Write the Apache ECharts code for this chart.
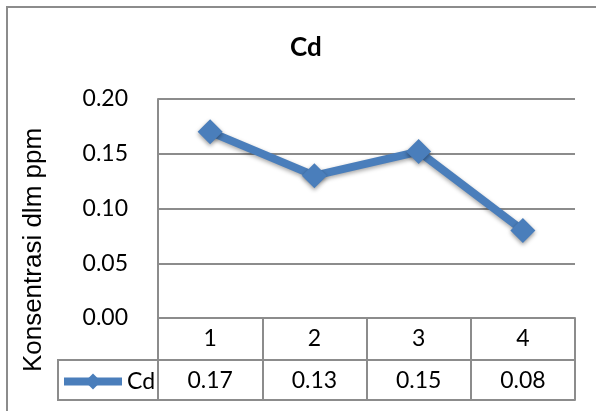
<!DOCTYPE html>
<html>
<head>
<meta charset="utf-8">
<script src="https://cdn.jsdelivr.net/npm/echarts@6/dist/echarts.min.js"></script>
<style>html,body{margin:0;padding:0;background:#fff}#c{width:596px;height:411px}</style>
</head>
<body>
<div id="c"></div>
<script>
const chartTitle = 'Cd';
const categories = ['1', '2', '3', '4'];
const seriesName = 'Cd';
const cdValues = [0.17, 0.13, 0.152, 0.08];
const yTicks = [0, 0.05, 0.10, 0.15, 0.20];
const yTitle = 'Konsentrasi dlm ppm';

const GRAY = '#8c8c8c';
const BLUE = '#4a7ebb';
const CAL = 'Lato';

const chart = echarts.init(document.getElementById('c'), null, {renderer: 'canvas'});
chart.setOption({
  animation: false,
  backgroundColor: '#fff',
  title: {
    text: chartTitle, left: 285, top: 30,
    textStyle: {fontFamily: CAL, fontWeight: 'bold', fontSize: 26, color: '#000'}
  },
  legend: {
    data: [seriesName], left: 55, top: 365, padding: 5, itemWidth: 58, itemHeight: 20,
    lineStyle: {width: 8, color: BLUE},
    itemStyle: {color: BLUE},
    textStyle: {fontFamily: CAL, fontSize: 23, color: '#000'}
  },
  grid: {left: 158, top: 99, right: 21, bottom: 93},
  yAxis: {
    type: 'value', min: yTicks[0], max: yTicks[yTicks.length - 1], interval: 0.05,
    axisLine: {show: true, lineStyle: {color: GRAY, width: 2}},
    axisTick: {show: false},
    splitLine: {lineStyle: {color: GRAY, width: 2}},
    axisLabel: {margin: 30, fontFamily: CAL, fontSize: 23, color: '#000', formatter: v => v.toFixed(2)}
  },
  xAxis: [
    {
      type: 'category', data: categories, position: 'bottom', boundaryGap: true,
      axisLine: {show: true, lineStyle: {color: GRAY, width: 2}},
      axisTick: {show: true, interval: 0, length: 82, lineStyle: {color: GRAY, width: 2}},
      axisLabel: {margin: 9, fontFamily: CAL, fontSize: 23, color: '#000'}
    },
    {
      type: 'category', data: categories, position: 'bottom', offset: 42, boundaryGap: true,
      axisLine: {show: true, lineStyle: {color: GRAY, width: 2}},
      axisTick: {show: false},
      axisLabel: {margin: 9, fontFamily: CAL, fontSize: 23, color: '#000',
        formatter: (v, i) => cdValues[i].toFixed(2)}
    },
    {
      type: 'category', data: categories, position: 'bottom', offset: 82, boundaryGap: true,
      axisLine: {show: true, lineStyle: {color: GRAY, width: 2}},
      axisTick: {show: false}, axisLabel: {show: false}
    }
  ],
  graphic: [
    {type: 'rect', shape: {x: 7, y: 7, width: 620, height: 430}, style: {fill: 'none', stroke: GRAY, lineWidth: 2}, silent: true, z: -1},
    {type: 'rect', shape: {x: 58, y: 360, width: 100, height: 40}, style: {fill: 'none', stroke: GRAY, lineWidth: 2}, silent: true},
    {type: 'text', x: 34, y: 250, rotation: Math.PI / 2,
     style: {text: yTitle, fontFamily: 'Liberation Sans', fontSize: 26, fill: '#000', textAlign: 'center', textVerticalAlign: 'middle'}}
  ],
  series: [{
    name: seriesName, type: 'line', xAxisIndex: 0, data: cdValues,
    symbol: 'diamond', symbolSize: 25,
    lineStyle: {color: BLUE, width: 8, shadowColor: 'rgba(0,0,0,0.35)', shadowBlur: 4, shadowOffsetY: 2},
    itemStyle: {color: BLUE, shadowColor: 'rgba(0,0,0,0.4)', shadowBlur: 4, shadowOffsetY: 2}
  }]
});
</script>
</body>
</html>
